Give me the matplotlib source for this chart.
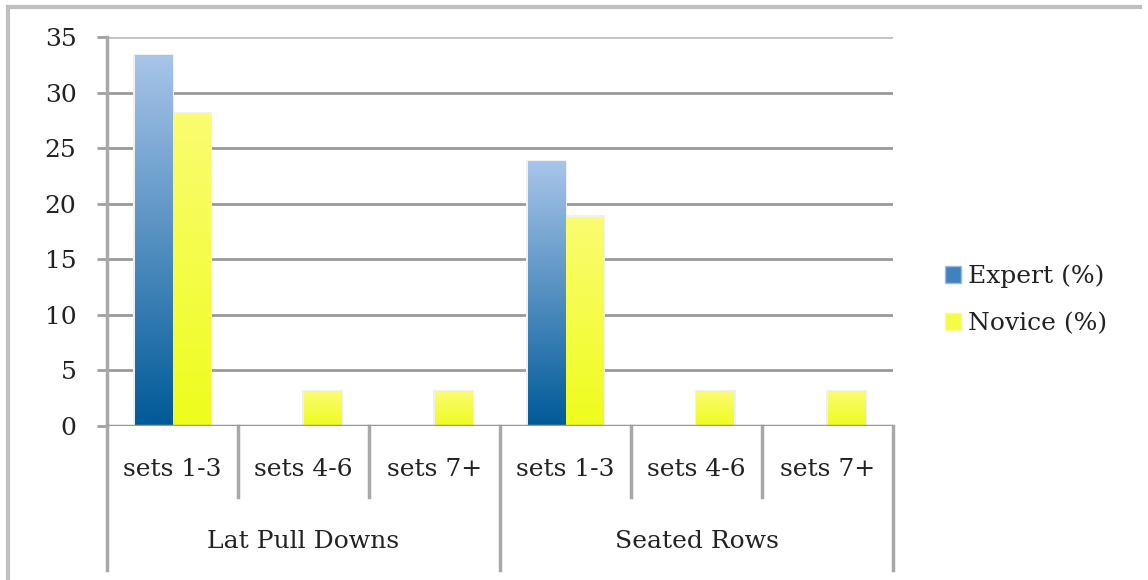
import numpy as np
import matplotlib
matplotlib.use("Agg")
import matplotlib.pyplot as plt
from matplotlib.lines import Line2D
from matplotlib.patches import Patch
from matplotlib.colors import LinearSegmentedColormap

# Data
groups = ["Lat Pull Downs", "Seated Rows"]
set_labels = ["sets 1-3", "sets 4-6", "sets 7+"]
expert = [33.3, 0, 0, 23.8, 0, 0]
novice = [28.1, 3.1, 3.1, 18.8, 3.1, 3.1]
series_names = ["Expert (%)", "Novice (%)"]
yticks = [0, 5, 10, 15, 20, 25, 30, 35]

plt.rcParams["font.family"] = ["DejaVu Serif"]
FS = 18
W, H = 1148, 580
fig = plt.figure(figsize=(W / 100, H / 100), dpi=100)
ax = fig.add_axes([107 / W, 1 - 426 / H, (893 - 107) / W, (426 - 37) / H])

n = len(expert)
x = np.arange(n)
bw = 0.29

blue_cmap = LinearSegmentedColormap.from_list("bl", ["#005a98", "#a8c5ea"])
yel_cmap = LinearSegmentedColormap.from_list("yl", ["#eefc1c", "#fbfd72"])

grad = np.linspace(0, 1, 256).reshape(-1, 1)
bars_e = ax.bar(x - bw / 2, expert, bw, color="none", linewidth=0)
bars_n = ax.bar(x + bw / 2, novice, bw, color="none", linewidth=0)
for bars, cmap in ((bars_e, blue_cmap), (bars_n, yel_cmap)):
    for b in bars:
        h = b.get_height()
        if h <= 0:
            continue
        x0 = b.get_x()
        x1 = x0 + b.get_width()
        # soft shadow around the bar
        ax.add_patch(plt.Rectangle((x0 - 0.015, 0), (x1 - x0) + 0.03, h + 0.15,
                                   facecolor="#f0f0f0", edgecolor="none", zorder=2))
        ax.imshow(grad, cmap=cmap, origin="lower", aspect="auto",
                  extent=(x0, x1, 0, h), zorder=3)

ax.set_xlim(-0.5, n - 0.5)
ax.set_ylim(0, 35)
ax.set_yticks(yticks)
ax.set_yticklabels([str(t) for t in yticks], fontsize=FS, color="#222222")
ax.yaxis.grid(True, color="#9a9a9a", linewidth=2.0, zorder=1)
ax.get_ygridlines()[-1].set_color("#c0c0c0")
ax.set_axisbelow(True)
ax.tick_params(axis="y", length=7, width=2.0, color="#a0a0a0", pad=15)
ax.set_xticks([])
for s in ["top", "right", "bottom"]:
    ax.spines[s].set_visible(False)
ax.spines["left"].set_color("#a8a8a8")
ax.spines["left"].set_linewidth(2.5)

# Category axis with hierarchical labels below the plot
ax.axhline(0, color="#999999", linewidth=2.5, zorder=4)
y_set = -(497 - 426) / 389
y_grp = -(570 - 426) / 389
y_set_txt = -(469 - 426) / 389
y_grp_txt = -(541 - 426) / 389
trans = ax.get_xaxis_transform()
for i in range(n + 1):
    xp = i - 0.5
    bottom = y_grp if i % 3 == 0 else y_set
    ax.add_line(Line2D([xp, xp], [0, bottom], transform=trans, color="#a8a8a8",
                       linewidth=2.5, clip_on=False))
for i in range(n):
    ax.text(i, y_set_txt, set_labels[i % 3], transform=trans, ha="center",
            va="center", fontsize=FS, color="#222222")
for g, name in enumerate(groups):
    ax.text(g * 3 + 1, y_grp_txt, name, transform=trans, ha="center",
            va="center", fontsize=FS, color="#222222")

# Legend
handles = [Patch(facecolor="#3f82bd", edgecolor="#9bbbe0", linewidth=1),
           Patch(facecolor="#f4fc48", edgecolor="#f8fb90", linewidth=1)]
fig.legend(handles, series_names, loc="center left",
           bbox_to_anchor=(922 / W, 1 - 300 / H), frameon=False,
           fontsize=FS, handlelength=0.65, handleheight=0.65,
           handletextpad=0.3, labelspacing=0.95, labelcolor="#222222")

# Outer chart frame
fig.add_artist(Line2D([8 / W, 8 / W], [0, 1 - 7 / H], transform=fig.transFigure,
                      color="#c0c0c0", linewidth=3))
fig.add_artist(Line2D([8 / W, 1140 / W], [1 - 7 / H, 1 - 7 / H],
                      transform=fig.transFigure, color="#c0c0c0", linewidth=3))

fig.savefig("out.png", dpi=100, facecolor="white")
